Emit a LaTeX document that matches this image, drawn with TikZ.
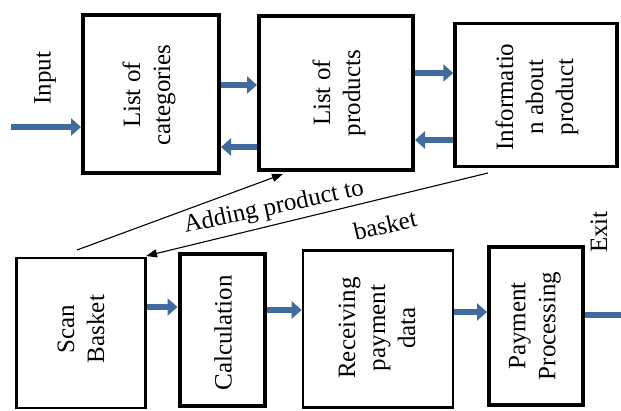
\documentclass[tikz,border=0pt]{standalone}
\usepackage{fontspec}
\setmainfont{Liberation Serif}
\usetikzlibrary{arrows.meta}
\definecolor{arrblue}{HTML}{3F6B9E}
\begin{document}
\begin{tikzpicture}[x=1pt,y=-1pt,
  thickbox/.style={draw=black,line width=4pt,minimum width=#1,inner sep=0pt,fill=white},
  txt/.style={rotate=90,align=center,inner sep=0pt,font=\fontsize{25}{30}\selectfont},
  lbl/.style={inner sep=0pt,font=\fontsize{25}{30}\selectfont},
  blk/.style={draw=arrblue,line width=6.5pt,-{Triangle[length=10pt,width=17pt]}},
  thin/.style={draw=black,line width=1.1pt,-{Triangle[length=11pt,width=8pt]}}]
\useasboundingbox (0,0) rectangle (621,411);
\fill[white] (0,0) rectangle (621,411);
% top row
\node[thickbox=136pt,minimum height=158pt] (b1) at (151,94) {};
\node[thickbox=154pt,minimum height=154pt] (b2) at (336,93) {};
\node[thickbox=162pt,minimum height=143pt,line width=3.5pt] (b3) at (536,95) {};
% bottom row
\node[thickbox=129pt,minimum height=150pt,line width=2.6pt] (s1) at (81,333) {};
\node[thickbox=85pt,minimum height=151pt] (s2) at (222,330) {};
\node[thickbox=150pt,minimum height=157pt,line width=2.6pt] (s3) at (378,329) {};
\node[thickbox=94pt,minimum height=158pt] (s4) at (536,326) {};
% texts
\node[txt] (t1) at (149,95) {List of\\categories};
\node[txt] (t2) at (339,93) {List of\\products};
\node[txt] (t3) at (537,97) {Informatio\\n about\\product};
\node[txt] (u1) at (81,329) {Scan\\Basket};
\node[txt] (u2) at (223,333) {Calculation};
\node[txt] (u3) at (377,328) {Receiving\\payment\\data};
\node[txt] (u4) at (535,326) {Payment\\Processing};
\node[txt] (tin) at (45,78) {Input};
\node[txt] (tex) at (599,232) {Exit};
% block arrows
\coordinate (inS) at (11,127);
\draw[blk] (inS) -- (b1.west |- inS);
\draw[blk] (b1.east |- {(0,85)}) -- (b2.west |- {(0,85)});
\draw[blk] (b2.west |- {(0,147)}) -- (b1.east |- {(0,147)});
\draw[blk] (b2.east |- {(0,73)}) -- (b3.west |- {(0,73)});
\draw[blk] (b3.west |- {(0,140)}) -- (b2.east |- {(0,140)});
\draw[blk] (s1.east |- {(0,307)}) -- (s2.west |- {(0,307)});
\draw[blk] (s2.east |- {(0,310)}) -- (s3.west |- {(0,310)});
\draw[blk] (s3.east |- {(0,312)}) -- (s4.west |- {(0,312)});
\coordinate (exE) at (622,315);
\draw[draw=arrblue,line width=6.5pt] (s4.east |- exE) -- (exE);
% thin arrows
\coordinate (l1s) at (77,250);
\coordinate (l1e) at (283,174);
\coordinate (l2s) at (488,173);
\coordinate (l2e) at (146,256);
\draw[thin] (l1s) -- (l1e);
\draw[thin] (l2s) -- (l2e);
\node[lbl,rotate=12] (a1) at (274,208) {Adding product to};
\node[lbl,rotate=13] (a2) at (385,225) {basket};
\end{tikzpicture}
\end{document}
